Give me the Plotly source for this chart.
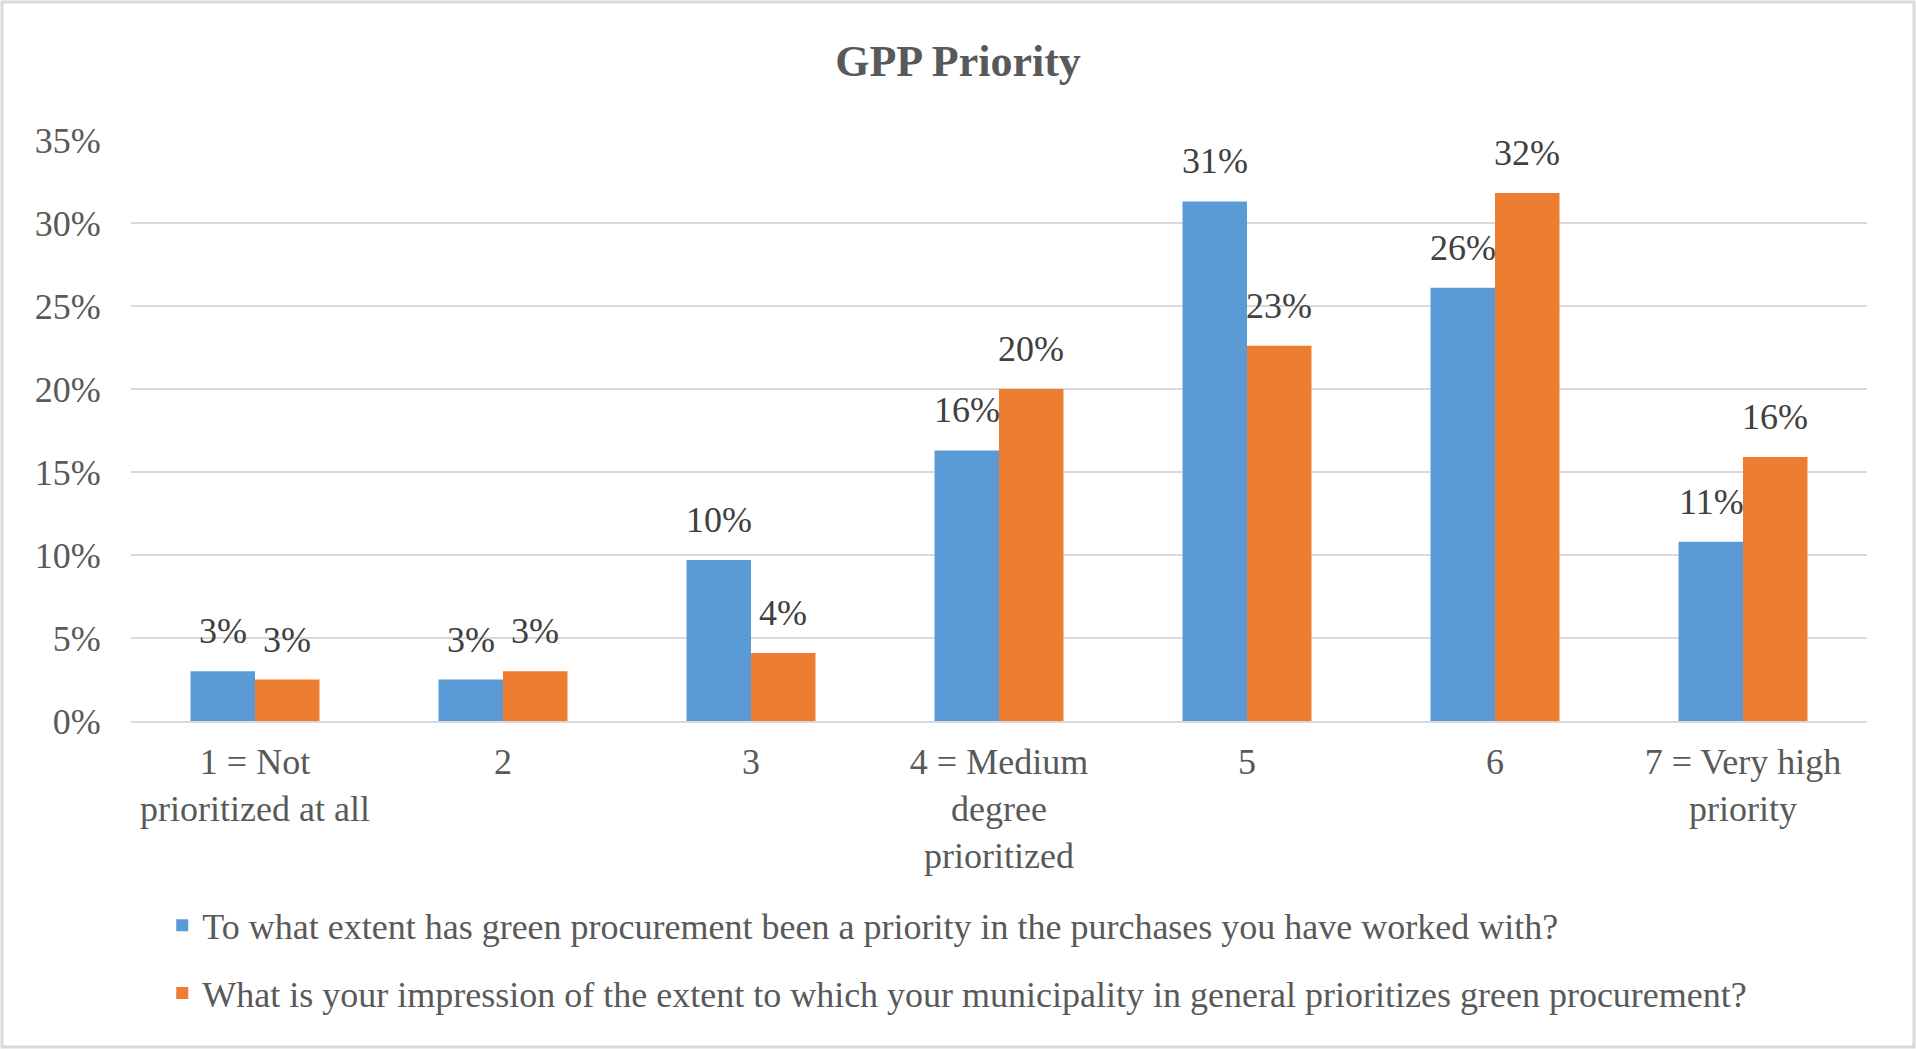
import plotly.graph_objects as go

categories = ["1 = Not<br>prioritized at all", "2", "3", "4 = Medium<br>degree<br>prioritized", "5", "6", "7 = Very high<br>priority"]
series_names = [
    "To what extent has green procurement been a priority in the purchases you have worked with?",
    "What is your impression of the extent to which your municipality in general prioritizes green procurement?",
]
own_purchases = [3.0, 2.5, 9.7, 16.3, 31.3, 26.1, 10.8]
municipality = [2.5, 3.0, 4.1, 20.0, 22.6, 31.8, 15.9]
y_ticks = [0, 5, 10, 15, 20, 25, 30, 35]
y_tick_labels = ["0%", "5%", "10%", "15%", "20%", "25%", "30%", "35%"]

colors = ["#5B9BD5", "#ED7D31"]
FONT = "Times New Roman, Liberation Serif, serif"

W, H = 1916, 1049
L, R, T, B = 131, 49, 140, 328
plot_w = W - L - R
plot_h = H - T - B

fig = go.Figure()
for name, vals, col in zip(series_names, [own_purchases, municipality], colors):
    fig.add_trace(go.Bar(
        x=categories, y=vals, name=name, marker_color=col,
        marker_line_width=0, legendgroup=name,
    ))

# data labels above bars (x given as category index)
bar_offset = 32
for i, vals in enumerate([own_purchases, municipality]):
    shift = -bar_offset if i == 0 else bar_offset
    for ci, v in enumerate(vals):
        fig.add_annotation(
            x=ci, y=v, text=f"{int(v + 0.5)}%", showarrow=False,
            xshift=shift, yshift=40, yanchor="middle",
            font=dict(family=FONT, size=36, color="#404040"),
        )

fig.update_layout(
    width=W, height=H,
    margin=dict(l=L, r=R, t=T, b=B),
    paper_bgcolor="white", plot_bgcolor="white",
    barmode="group", bargap=0.48, bargroupgap=0,
    title=dict(text="<b>GPP Priority</b>", x=0.5, xref="container", xanchor="center",
               y=1 - 61 / H, yref="container", yanchor="middle",
               font=dict(family=FONT, size=44, color="#595959")),
    font=dict(family=FONT, size=36, color="#595959"),
    showlegend=True,
    legend=dict(orientation="v", x=0.018, xanchor="left", y=-0.3, yanchor="top",
                font=dict(family=FONT, size=36, color="#595959"),
                tracegroupgap=18, bgcolor="rgba(0,0,0,0)"),
)
fig.update_xaxes(
    type="category",
    showgrid=False, showline=True, linecolor="#D9D9D9", linewidth=2,
    ticks="outside", ticklen=8, tickcolor="rgba(0,0,0,0)",
    tickfont=dict(family=FONT, size=36, color="#595959"),
)
fig.update_yaxes(
    range=[0, 35], tickvals=y_ticks, ticktext=y_tick_labels,
    showgrid=True, gridcolor="#D9D9D9", gridwidth=2, zeroline=False,
    showline=False,
    ticks="outside", ticklen=22, tickcolor="rgba(0,0,0,0)",
    tickfont=dict(family=FONT, size=36, color="#595959"),
)

# outer frame of the chart area
fig.add_shape(type="rect", xref="paper", yref="paper",
              x0=-(L - 2) / plot_w, x1=1 + (R - 2) / plot_w,
              y0=-(B - 2) / plot_h, y1=1 + (T - 2) / plot_h,
              line=dict(color="#D9D9D9", width=3), layer="below")

fig.write_html("out.html")
